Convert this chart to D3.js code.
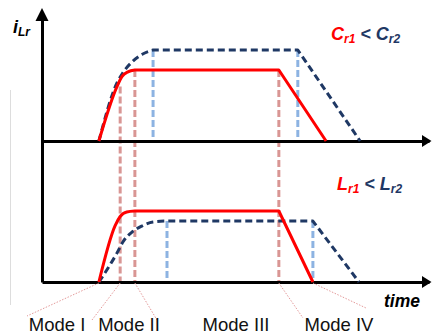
<!DOCTYPE html>
<html>
<head>
<meta charset="utf-8">
<script src="https://cdn.jsdelivr.net/npm/d3@7"></script>
<style>
  html, body { margin: 0; padding: 0; background: #fff; }
  svg { display: block; font-family: "Liberation Sans", Arial, sans-serif; }
</style>
</head>
<body>
<div id="chart"></div>
<script>
// time axis runs 0..100, current normalised to the taller (navy) plateau = 1
var upperRed  = [[14.7,0],[19.4,0.60],[20.7,0.71],[22.2,0.76],[24.0,0.78],[61.2,0.78],[73.4,0]];
var upperNavy = [[14.7,0],[19.4,0.64],[20.9,0.75],[23.3,0.87],[25.8,0.95],[28.7,1.0],[66.1,1.0],[82.2,0]];
var lowerRed  = [[14.7,0],[18.9,0.62],[20.2,0.72],[21.9,0.77],[24.0,0.78],[61.2,0.78],[70.0,0]];
var lowerNavy = [[14.7,0],[17.6,0.19],[19.4,0.32],[20.9,0.44],[23.3,0.55],[25.8,0.615],[28.7,0.66],[32.3,0.67],[70.0,0.67],[81.9,0]];

// mode boundaries (time) and the pink markers dropped from the red curve
var modeT    = [14.7, 20.2, 24.0, 61.2, 70.0];
var pinkT    = [20.2, 24.0, 61.2];
var pinkTop  = [0.60, 0.78, 0.78];
var blueUpT  = [28.7, 66.1];
var blueLowT = [32.3, 70.0];
var modeLabels = ["Mode I", "Mode II", "Mode III", "Mode IV"];

var W = 432, H = 336;
var red = "#ff0000", navy = "#1f3864", pink = "#d99694", blue = "#8db3e2";

var svg = d3.select("#chart").append("svg")
    .attr("width", W)
    .attr("height", H);

var x = d3.scaleLinear().domain([0, 100]).range([42, 429]);
var yUp = d3.scaleLinear().domain([0, 1]).range([141, 50]);
var yLow = d3.scaleLinear().domain([0, 1]).range([282, 191]);
var yAxisScale = d3.scaleLinear().domain([0, 1]).range([282, 16]);

// faint guide line at the far left
svg.append("line")
    .attr("x1", 10.5).attr("x2", 10.5)
    .attr("y1", 90).attr("y2", 305)
    .attr("stroke", "#dddddd").attr("stroke-width", 1);

// pink mode markers span both panels
svg.selectAll(".pink").data(pinkT).enter().append("line")
    .attr("x1", function(d) { return x(d); })
    .attr("x2", function(d) { return x(d); })
    .attr("y1", function(d, i) { return yUp(pinkTop[i]); })
    .attr("y2", yLow(0))
    .attr("stroke", pink).attr("stroke-width", 3)
    .attr("stroke-dasharray", "7,3");

svg.selectAll(".blueUp").data(blueUpT).enter().append("line")
    .attr("x1", function(d) { return x(d); })
    .attr("x2", function(d) { return x(d); })
    .attr("y1", yUp(1)).attr("y2", yUp(0))
    .attr("stroke", blue).attr("stroke-width", 3)
    .attr("stroke-dasharray", "7,3");

svg.selectAll(".blueLow").data(blueLowT).enter().append("line")
    .attr("x1", function(d) { return x(d); })
    .attr("x2", function(d) { return x(d); })
    .attr("y1", yLow(0.67)).attr("y2", yLow(0))
    .attr("stroke", blue).attr("stroke-width", 3)
    .attr("stroke-dasharray", "7,3");

// axes: plain lines, no ticks
function styleAxis(g) {
  g.select(".domain").attr("stroke", "#000").attr("stroke-width", 3);
}
svg.append("g")
    .attr("transform", "translate(0," + yUp(0) + ")")
    .call(d3.axisBottom(x).tickValues([]).tickSizeOuter(0))
    .call(styleAxis);
svg.append("g")
    .attr("transform", "translate(0," + yLow(0) + ")")
    .call(d3.axisBottom(x).tickValues([]).tickSizeOuter(0))
    .call(styleAxis);
svg.append("g")
    .attr("transform", "translate(" + x(0) + ",0)")
    .call(d3.axisLeft(yAxisScale).tickValues([]).tickSizeOuter(0))
    .call(styleAxis);

// arrow heads
var xEnd = x.range()[1];
[yUp(0), yLow(0)].forEach(function(yy) {
  svg.append("path")
      .attr("d", "M" + (xEnd + 2.5) + "," + yy + "L" + (xEnd - 7) + "," + (yy - 6) + "L" + (xEnd - 7) + "," + (yy + 6) + "Z")
      .attr("fill", "#000");
});
var yTop = yAxisScale.range()[1];
svg.append("path")
    .attr("d", "M" + x(0) + "," + (yTop - 8) + "L" + (x(0) - 6.5) + "," + (yTop + 5) + "L" + (x(0) + 6.5) + "," + (yTop + 5) + "Z")
    .attr("fill", "#000");

// current curves: smooth rise, straight plateau and fall
function curvePath(data, ys) {
  var top = d3.max(data, function(d) { return d[1]; });
  var k = data.findIndex(function(d) { return d[1] === top; });
  var rise = d3.line().x(function(d) { return x(d[0]); }).y(function(d) { return ys(d[1]); })
      .curve(d3.curveMonotoneX);
  var rest = d3.line().x(function(d) { return x(d[0]); }).y(function(d) { return ys(d[1]); });
  return rise(data.slice(0, k + 1)) + rest(data.slice(k)).replace(/^M/, "L");
}

function drawCurve(data, ys, color, dashed) {
  var p = svg.append("path")
      .attr("d", curvePath(data, ys))
      .attr("fill", "none")
      .attr("stroke", color)
      .attr("stroke-width", 3)
      .attr("stroke-linejoin", "round");
  if (dashed) p.attr("stroke-dasharray", "7,4");
}
drawCurve(upperNavy, yUp, navy, true);
drawCurve(upperRed, yUp, red, false);
drawCurve(lowerNavy, yLow, navy, true);
drawCurve(lowerRed, yLow, red, false);

// leader lines to mode labels
var leaderEnds = [[27,316],[92,320],[157,320],[303,318],[366,308]];
svg.selectAll(".leader").data(modeT).enter().append("line")
    .attr("x1", function(d) { return x(d); })
    .attr("y1", yLow(0) + 1)
    .attr("x2", function(d, i) { return leaderEnds[i][0]; })
    .attr("y2", function(d, i) { return leaderEnds[i][1]; })
    .attr("stroke", "#e49a9a").attr("stroke-width", 1)
    .attr("stroke-dasharray", "1.5,1.5");

var labelX = [57, 129, 236, 339];
svg.selectAll(".mode").data(modeLabels).enter().append("text")
    .attr("x", function(d, i) { return labelX[i]; })
    .attr("y", 331)
    .attr("text-anchor", "middle")
    .attr("font-size", 18.5)
    .attr("fill", "#111")
    .text(function(d) { return d; });

// axis titles
var yt = svg.append("text")
    .attr("x", 13).attr("y", 33)
    .attr("font-weight", "bold").attr("font-style", "italic")
    .attr("fill", "#000");
yt.append("tspan").attr("font-size", 18).text("i");
yt.append("tspan").attr("font-size", 12).attr("dy", 3).text("Lr");

svg.append("text")
    .attr("x", 384).attr("y", 307)
    .attr("font-size", 17.5)
    .attr("font-weight", "bold").attr("font-style", "italic")
    .attr("fill", "#000")
    .text("time");

// condition notes
function note(xx, yy, sym) {
  var t = svg.append("text")
      .attr("x", xx).attr("y", yy)
      .attr("font-weight", "bold").attr("font-style", "italic");
  t.append("tspan").attr("font-size", 18).attr("fill", red).text(sym);
  t.append("tspan").attr("font-size", 12).attr("dy", 3).attr("fill", red).text("r1");
  t.append("tspan").attr("font-size", 18).attr("dy", -3).attr("fill", navy).text(" < " + sym);
  t.append("tspan").attr("font-size", 12).attr("dy", 3).attr("fill", navy).text("r2");
}
note(331, 40, "C");
note(337, 190, "L");
</script>
</body>
</html>
